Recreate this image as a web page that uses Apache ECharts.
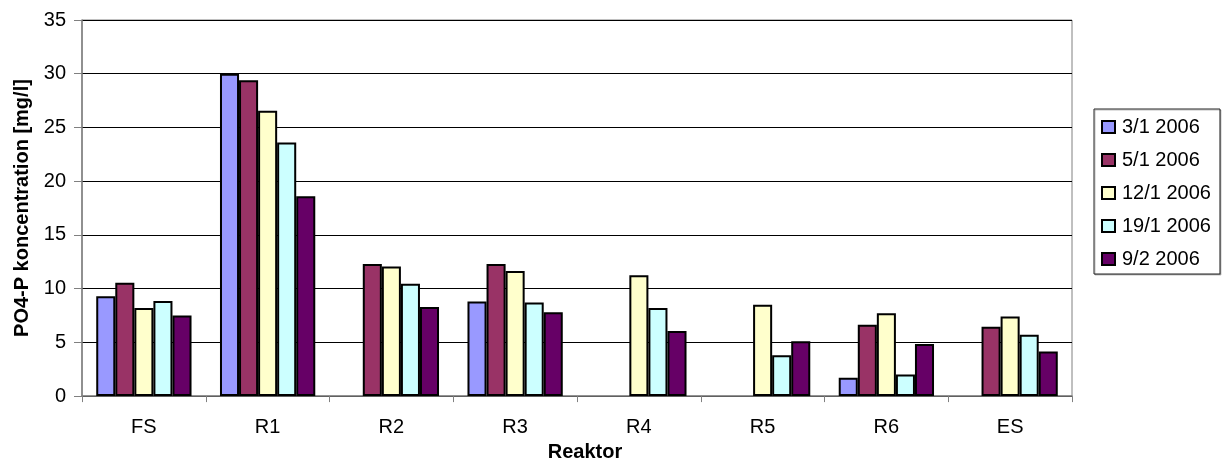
<!DOCTYPE html>
<html>
<head>
<meta charset="utf-8">
<title>PO4-P koncentration</title>
<script src="https://cdn.jsdelivr.net/npm/echarts@6/dist/echarts.min.js"></script>
<style>
  html, body { margin: 0; padding: 0; background: #fff; }
  #chart { width: 1227px; height: 467px; }
</style>
</head>
<body>
<div id="chart"></div>
<script>
// Reactor stages along the treatment line
const reaktorer = ['FS', 'R1', 'R2', 'R3', 'R4', 'R5', 'R6', 'ES'];

// Sampling dates
const datoer = ['3/1 2006', '5/1 2006', '12/1 2006', '19/1 2006', '9/2 2006'];

// PO4-P concentration [mg/l] per reactor, one array per sampling date (null = not measured)
const d0301 = [9.3, 30.0, null, 8.8, null, null, 1.7, null];
const d0501 = [10.55, 29.4, 12.3, 12.3, null, null, 6.65, 6.45];
const d1201 = [8.2, 26.55, 12.05, 11.65, 11.25, 8.5, 7.7, 7.4];
const d1901 = [8.85, 23.6, 10.45, 8.7, 8.2, 3.8, 2.0, 5.7];
const d0902 = [7.5, 18.6, 8.3, 7.8, 6.05, 5.1, 4.85, 4.15];

const maalinger = [d0301, d0501, d1201, d1901, d0902];
const farver = ['#9999FF', '#993366', '#FFFFCC', '#CCFFFF', '#660066'];

const FONT = "'Liberation Sans', Arial, sans-serif";

const chart = echarts.init(document.getElementById('chart'), null, { renderer: 'canvas' });

chart.setOption({
  animation: false,
  backgroundColor: '#ffffff',
  textStyle: { fontFamily: FONT },
  grid: {
    left: 82, right: 155, top: 20, bottom: 60,
    show: true, borderColor: '#808080', borderWidth: 1, backgroundColor: 'transparent'
  },
  legend: {
    orient: 'vertical',
    left: 1094, top: 109,
    padding: [8, 9, 5, 7],
    itemGap: 13,
    itemWidth: 13, itemHeight: 12,
    icon: 'rect',
    borderColor: '#222', borderWidth: 1,
    shadowColor: 'rgba(0,0,0,0.25)', shadowOffsetX: 1, shadowOffsetY: 1, shadowBlur: 0,
    backgroundColor: '#fff',
    itemStyle: { borderColor: '#000', borderWidth: 2 },
    textStyle: { fontFamily: FONT, fontSize: 20, color: '#000', lineHeight: 20, padding: [0, 0, 0, 2] },
    data: datoer
  },
  xAxis: {
    type: 'category',
    data: reaktorer,
    name: 'Reaktor',
    nameLocation: 'middle',
    nameGap: 38,
    nameTextStyle: { fontFamily: FONT, fontSize: 20, fontWeight: 'bold', color: '#000', padding: [0, 0, 0, 16] },
    axisLine: { lineStyle: { color: '#808080', width: 1.5 } },
    axisTick: { show: true, length: 6, alignWithLabel: false, lineStyle: { color: '#808080', width: 1 } },
    axisLabel: { fontFamily: FONT, fontSize: 20, color: '#000', margin: 21 },
    splitLine: { show: false }
  },
  yAxis: {
    type: 'value',
    min: 0, max: 35, interval: 5,
    name: 'PO4-P koncentration [mg/l]',
    nameLocation: 'middle',
    nameGap: 49,
    nameRotate: 90,
    nameTextStyle: { fontFamily: FONT, fontSize: 20, fontWeight: 'bold', color: '#000' },
    axisLine: { show: true, lineStyle: { color: '#808080', width: 1.5 } },
    axisTick: { show: true, length: 8, lineStyle: { color: '#808080', width: 1 } },
    axisLabel: { fontFamily: FONT, fontSize: 20, color: '#000', margin: 16 },
    splitLine: { show: true, lineStyle: { color: '#000', width: 1 } }
  },
  series: maalinger.map((vals, i) => ({
    name: datoer[i],
    type: 'bar',
    data: vals,
    barGap: '0%',
    barCategoryGap: '23%',
    itemStyle: { color: farver[i], borderColor: '#000', borderWidth: 2 },
    emphasis: { disabled: true }
  }))
});
</script>
</body>
</html>
